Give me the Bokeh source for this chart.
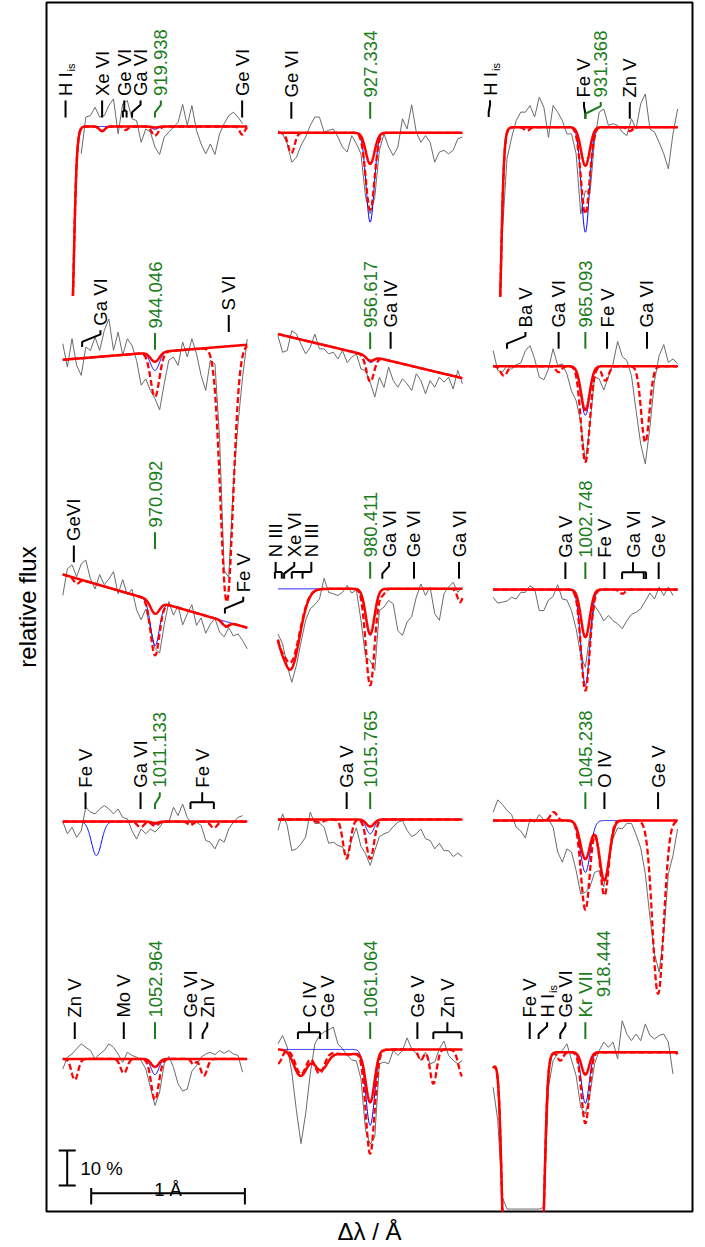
import numpy as np
from bokeh.plotting import figure
from bokeh.models import FixedTicker, ColumnDataSource
from bokeh.core.properties import value
from bokeh.embed import file_html
from bokeh.resources import INLINE

nan = float("nan")

# ---------------------------------------------------------------- data
PANELS = ["919.938", "944.046", "970.092", "1011.133", "1052.964",
          "927.334", "956.617", "980.411", "1015.765", "1061.064",
          "931.368", "965.093", "1002.748", "1045.238", "918.444"]
COLUMN = [0, 0, 0, 0, 0, 1, 1, 1, 1, 1, 2, 2, 2, 2, 2]
CONT_SLOPE = [0, 3.58, -12.7, 0, 0, 0, -10.5, 0, 0, 0, 0, 0, 0, 0, 0]  # % per Angstrom
DL_OBS = np.arange(-20, 21) * 0.03  # Angstrom

# observed flux, % relative to continuum
obs_919_938 = [nan, nan, nan, nan, -7.8, 2.7, 3.1, 5.5, 2.7, 3.1, 6.0, 7.9, -2.1, 6.5, 7.4, 2.2, 1.7, -4.5, -0.7, -1.6, -5.9, -8.0, -3.0, -1.6, -0.2, 1.2, 6.3, 0.3, 6.0, -1.1, -5.0, -7.8, -5.0, -8.0, -2.1, 0.8, 3.1, 4.1, 2.7, 0.8, nan]
obs_944_046 = [4.6, -2.2, 5.8, -1.9, -4.9, 3.1, 2.0, 5.7, 1.8, 7.4, 10.6, 1.5, 6.6, -0.1, 4.5, 2.5, -1.9, -9.1, -7.4, -10.8, -13.3, -16.6, -9.2, -2.6, -1.8, -4.3, 2.3, -2.1, 3.0, -1.4, -7.7, -12.1, -3.6, -4.7, -25.8, -64.0, -66.0, -39.4, -22.4, -9.1, 1.6]
obs_970_092 = [-6.0, 2.0, 3.5, 0.5, 4.5, 6.0, 1.0, -1.5, 3.0, 0.5, 2.5, 5.0, -1.0, 3.5, -0.5, 1.5, -4.0, -6.5, -3.0, -8.0, -13.5, -14.5, -6.0, 1.0, -2.5, 0.5, -4.5, -1.0, 2.0, -3.5, -1.0, -5.0, -2.0, 0.0, -3.5, -4.5, -1.5, -3.5, -2.5, -4.0, -6.0]
obs_1011_133 = [0.0, -3.5, -1.6, -4.5, -2.6, 4.1, 2.7, 2.2, 3.6, 4.6, 3.6, 2.2, 3.6, 1.2, 0.8, -2.6, -5.0, -2.1, -3.5, -2.1, -3.0, -1.6, 0.3, -0.2, 4.1, 1.7, 5.0, 1.2, -0.7, -0.2, -1.1, -5.4, -5.9, -7.8, -5.0, -5.9, -2.1, -0.2, 1.2, 1.7, nan]
obs_1052_964 = [-2.9, 0.5, 1.4, 2.9, 4.3, 3.3, 2.4, 0.0, 1.4, 2.4, 4.3, 3.3, 1.4, -1.0, 1.9, 1.0, 0.5, -0.5, -2.9, -8.1, -13.3, -9.5, -1.4, 0.7, -2.4, -7.1, -9.2, -8.6, -3.5, -1.9, 0.5, 1.4, 1.9, 1.2, 2.4, 1.6, 2.4, 1.4, 1.0, -3.8, nan]
obs_927_334 = [0.7, -0.3, -3.1, -8.4, -7.0, -3.6, -1.2, 2.1, 4.5, 4.5, 0.2, 0.7, 1.1, -1.2, -4.1, -5.5, -0.8, -3.1, -6.0, -18.4, -23.1, -18.4, -5.0, -0.3, -4.1, -6.5, -4.1, 4.0, 1.1, 8.0, 0.2, -2.7, -0.8, -2.7, -8.4, -5.5, -5.0, -6.0, -5.0, -1.7, -1.2]
obs_956_617 = [-0.5, -4.9, -4.1, 1.9, 1.3, -1.3, -3.8, -1.6, 2.5, -1.4, -1.1, -2.2, -1.4, -3.0, -0.3, -3.4, -1.6, -0.3, -4.3, -4.5, -7.5, -11.4, -5.4, -8.0, -1.9, -5.4, -7.0, -4.3, -5.4, -7.0, -1.9, -3.5, -7.0, -2.9, -4.5, -1.3, -2.4, -0.7, -3.7, 1.9, -1.6]
obs_980_411 = [-12.9, -15.7, -21.9, -26.7, -21.9, -15.2, -9.0, -5.7, -4.5, -2.9, 3.0, -1.0, -1.4, -1.9, -1.0, 1.0, -1.2, -0.3, -9.0, -19.5, -20.5, -23.3, -6.2, -5.2, -3.3, -4.3, -11.9, -13.3, -9.5, -7.9, -2.4, 1.4, -1.9, 0.5, -7.1, -9.0, -1.4, 0.5, 1.9, -1.0, 0.5]
obs_1015_765 = [-3.1, 1.6, -1.7, -8.9, -8.4, -7.0, -5.0, 2.1, -1.2, -1.0, -2.2, -6.8, -6.5, -7.4, -7.9, -10.6, -5.8, -2.4, -7.7, -9.8, -13.1, -8.9, -4.9, -4.1, -3.6, -2.0, -0.8, -0.3, -3.1, -4.9, -4.1, -2.7, -5.5, -6.0, -8.4, -6.8, -8.9, -8.9, -10.6, -9.6, -10.6]
obs_1061_064 = [1.6, 4.0, 0.7, -6.5, -17.4, -26.9, -18.4, -7.0, 1.6, 4.0, 5.0, 5.6, 6.4, 1.6, 0.2, -1.7, -3.0, -3.3, -8.4, -23.1, -27.0, -25.0, -4.1, -3.6, -4.1, -0.3, -1.7, -0.3, 3.3, 0.2, -1.2, -3.1, -0.8, -4.1, -3.6, 0.2, 2.4, -1.7, -3.1, -4.1, -3.1]
obs_931_368 = [nan, nan, -30.0, -9.0, -3.0, 1.9, 4.3, 4.3, 6.2, 2.9, 8.6, 5.7, -2.9, 6.2, 4.3, 1.9, -1.9, -1.9, -7.6, -24.8, -18.1, -19.0, -3.8, 4.3, 5.2, 0.5, 1.0, 0.5, -1.4, -2.4, 2.4, -0.5, 6.7, 9.5, -0.5, -1.4, -4.3, -7.6, -11.9, -1.9, 5.2]
obs_965_093 = [4.5, -1.2, -1.7, 0.2, -0.8, 0.5, 0.9, 4.5, 5.9, 2.1, -3.1, -3.9, -0.8, 5.0, 0.2, 0.7, -2.2, -7.1, -9.8, -16.0, -27.4, -16.5, -3.1, -3.6, -6.8, -3.1, 0.7, 7.1, 2.8, 1.6, -2.7, -12.7, -22.2, -27.9, -17.4, -4.1, 3.0, 6.2, 1.1, 2.1, 0.7]
obs_1002_748 = [-2.2, -3.9, -3.6, -3.3, -2.2, -2.7, -0.8, -0.8, 1.1, 0.2, -6.0, -6.0, -3.0, -2.0, 1.4, -2.7, -3.0, -6.0, -11.2, -18.9, -22.2, -12.4, -4.6, -6.5, -8.9, -7.4, -8.9, -9.8, -11.2, -8.9, -7.1, -6.5, -5.5, -3.3, -1.0, -2.7, 0.7, -1.7, 0.7, -1.7, nan]
obs_1045_238 = [2.4, 5.9, 4.6, 2.9, 1.7, -1.9, -3.0, -5.0, 0.5, -0.5, 1.7, 0.2, 0.5, -1.9, -9.0, -11.9, -8.1, -9.0, -14.3, -21.0, -20.5, -19.0, -14.8, -14.3, -18.9, -11.4, -5.2, -2.1, -2.4, -0.8, -0.8, -4.0, -7.8, -15.2, -27.6, -38.1, -43.3, -32.4, -15.2, -10.0, -2.4]
obs_918_444 = [-10.0, -19.5, -41.4, -44.8, -44.8, -44.8, -44.8, -44.8, -44.8, -44.8, -44.8, -44.3, -10.0, -2.4, -0.5, 0.5, 2.4, -2.2, -6.7, -15.7, -17.6, -11.9, -3.3, 0.5, 2.9, 1.4, 2.9, -1.9, 9.0, 5.2, 3.3, 5.2, 3.3, 8.1, 4.8, 3.8, 4.8, 5.2, 2.9, -6.2, nan]

# model absorption lines: (delta lambda [A], depth [%], width [A])
solid_919_938 = [(-0.344, 1.3, 0.025), (0.0, 0.3, 0.03)]
dashed_919_938 = [(-0.344, 1.3, 0.025), (-0.19, 1.0, 0.02), (0.0, 2.6, 0.03), (0.567, 2.3, 0.022)]
blue_919_938 = [(0.0, 0.8, 0.03)]
solid_944_046 = [(0.0, 2.7, 0.04)]
dashed_944_046 = [(0.0, 12.7, 0.04), (0.467, 73.0, 0.058)]
blue_944_046 = [(0.0, 5.2, 0.04)]
solid_970_092 = [(0.0, 3.6, 0.04), (0.46, 1.3, 0.03)]
dashed_970_092 = [(-0.51, 1.5, 0.025), (0.0, 15.5, 0.04), (0.46, 1.5, 0.03)]
blue_970_092 = [(0.0, 12.7, 0.04)]
solid_1011_133 = [(0.0, 0.4, 0.03)]
dashed_1011_133 = [(-0.094, 1.6, 0.03), (0.0, 1.2, 0.03), (0.231, 1.0, 0.025), (0.383, 1.8, 0.03)]
blue_1011_133 = [(-0.381, 9.7, 0.046), (0.0, 0.8, 0.03)]
solid_1052_964 = [(0.0, 2.3, 0.035)]
dashed_1052_964 = [(-0.522, 6.0, 0.03), (-0.203, 4.1, 0.03), (0.0, 11.7, 0.035), (0.25, 1.5, 0.02), (0.318, 4.8, 0.03)]
blue_1052_964 = [(0.0, 4.5, 0.035)]
solid_927_334 = [(0.0, 8.9, 0.04)]
dashed_927_334 = [(-0.513, 5.8, 0.03), (0.0, 22.0, 0.04)]
blue_927_334 = [(0.0, 25.5, 0.037)]
solid_956_617 = [(0.0, 1.3, 0.035)]
dashed_956_617 = [(0.0, 7.3, 0.035)]
blue_956_617 = [(0.0, 1.8, 0.035)]
solid_980_411 = [(-0.6, 5.0, 0.04), (-0.52, 23.0, 0.085), (0.0, 12.9, 0.04)]
dashed_980_411 = [(-0.6, 6.0, 0.04), (-0.52, 21.0, 0.085), (0.0, 27.6, 0.04), (0.08, 1.5, 0.025), (0.585, 3.8, 0.025)]
blue_980_411 = [(0.0, 13.3, 0.04)]
solid_1015_765 = [(0.0, 2.0, 0.035)]
dashed_1015_765 = [(-0.33, 0.8, 0.04), (-0.153, 11.2, 0.033), (0.0, 11.2, 0.035)]
blue_1015_765 = [(0.0, 4.1, 0.035)]
solid_1061_064 = [(-0.453, 7.5, 0.06), (-0.322, 5.5, 0.06), (-0.15, 1.4, 0.15), (0.0, 14.6, 0.04)]
dashed_1061_064 = [(-0.6, 4.0, 0.035), (-0.45, 7.0, 0.05), (-0.33, 6.5, 0.045), (-0.15, 1.4, 0.15), (0.0, 29.3, 0.04), (0.33, 3.0, 0.025), (0.411, 9.8, 0.03), (0.6, 7.6, 0.035)]
blue_1061_064 = [(0.0, 21.7, 0.04)]
solid_931_368 = [(0.0, 11.0, 0.04)]
dashed_931_368 = [(-0.38, 1.0, 0.025), (0.0, 24.8, 0.04), (0.29, 1.1, 0.025)]
blue_931_368 = [(0.0, 30.0, 0.037)]
solid_965_093 = [(0.0, 12.5, 0.04)]
dashed_965_093 = [(-0.53, 2.7, 0.03), (-0.174, 1.7, 0.025), (0.0, 27.4, 0.04), (0.13, 4.1, 0.03), (0.39, 21.7, 0.038)]
blue_965_093 = [(0.0, 14.0, 0.04)]
solid_1002_748 = [(0.0, 13.6, 0.04)]
dashed_1002_748 = [(0.0, 28.9, 0.04), (0.24, 1.2, 0.025)]
blue_1002_748 = [(0.0, 27.4, 0.04)]
solid_1045_238 = [(0.0, 11.0, 0.045), (0.124, 17.1, 0.045)]
dashed_1045_238 = [(-0.206, -2.4, 0.03), (0.0, 25.5, 0.04), (0.124, 21.4, 0.04), (0.473, 49.5, 0.052)]
blue_1045_238 = [(0.0, 14.8, 0.045)]
solid_918_444 = [(-0.63, 6.0, 0.05), (0.0, 6.4, 0.035), (0.62, 1.5, 0.02)]
dashed_918_444 = [(-0.63, 6.0, 0.05), (-0.163, 2.4, 0.025), (0.0, 20.3, 0.035)]
blue_918_444 = [(-0.63, 6.0, 0.05), (0.0, 14.6, 0.035)]

# saturated interstellar H I: (delta lambda, depth %, width, central optical depth)
hi_919_938 = [(-0.68, 60.0, 0.06, 614.0)]
hi_931_368 = [(-0.70, 60.0, 0.06, 614.0)]
hi_918_444 = [(-0.405, 60.0, 0.06, 219.0)]

# line identifications: (text, line positions, label position, colour, tick base %)
labels_919_938 = [("H I_is", [-0.582], -0.582, "k", 2.6), ("Xe VI", [-0.344], -0.344, "k", 2.6),
                  ("Ge VI", [-0.209, -0.185], -0.2, "k", 2.6), ("Ga VI", [-0.149], -0.094, "k", 2.6),
                  ("919.938", [0.0], 0.038, "g", 2.6), ("Ge VI", [0.567], 0.567, "k", 2.6)]
labels_944_046 = [("Ga VI", [-0.474], -0.355, "k", 3.2), ("944.046", [0.0], 0.0, "g", 0.7),
                  ("S VI", [0.48], 0.48, "k", 4.1)]
labels_970_092 = [("GeVI", [-0.528], -0.528, "k", 4.4), ("970.092", [0.0], 0.0, "g", 14.9),
                  ("Fe V", [0.455], 0.574, "k", 2.2)]
labels_1011_133 = [("Fe V", [-0.452], -0.452, "k", 3.6), ("Ga VI", [-0.094], -0.094, "k", 3.6),
                   ("1011.133", [0.0], 0.031, "g", 3.6), ("Fe V", [0.231, 0.383], 0.307, "k", 3.6)]
labels_1052_964 = [("Zn V", [-0.522], -0.522, "k", 5.7), ("Mo V", [-0.203], -0.203, "k", 5.7),
                   ("1052.964", [0.0], 0.0, "g", 5.7), ("Ge VI", [0.231], 0.231, "k", 5.7),
                   ("Zn V", [0.31], 0.34, "k", 5.7)]
labels_927_334 = [("Ge VI", [-0.513], -0.513, "k", 4.0), ("927.334", [0.0], 0.0, "g", 4.0)]
labels_956_617 = [("956.617", [0.0], 0.0, "g", 2.0), ("Ga IV", [0.133], 0.133, "k", 3.5)]
labels_980_411 = [("N III", [-0.62, -0.575], -0.615, "k", 2.9), ("Xe VI", [-0.56], -0.494, "k", 2.9),
                  ("N III", [-0.51, -0.44], -0.383, "k", 2.9), ("980.411", [0.0], 0.0, "g", 2.9),
                  ("Ga VI", [0.079], 0.123, "k", 2.9), ("Ge VI", [0.285], 0.285, "k", 2.9),
                  ("Ga VI", [0.578], 0.578, "k", 2.9)]
labels_1015_765 = [("Ga V", [-0.153], -0.153, "k", 3.0), ("1015.765", [0.0], 0.0, "g", 3.0)]
labels_1061_064 = [("C IV", [-0.47, -0.326], -0.398, "k", 3.0), ("Ge V", [-0.279], -0.279, "k", 3.0),
                   ("1061.064", [0.0], 0.0, "g", 3.0), ("Ge V", [0.307], 0.307, "k", 3.0),
                   ("Zn V", [0.411, 0.595], 0.502, "k", 3.0)]
labels_931_368 = [("H I_is", [-0.629], -0.62, "k", 2.9), ("Fe V", [0.0], -0.009, "k", 2.4),
                  ("931.368", [0.0], 0.1, "g", 2.4), ("Zn V", [0.289], 0.289, "k", 2.4)]
labels_965_093 = [("Ba V", [-0.51], -0.39, "k", 5.0), ("Ga VI", [-0.174], -0.174, "k", 5.0),
                  ("965.093", [0.0], 0.0, "g", 5.0), ("Fe V", [0.141], 0.141, "k", 5.0),
                  ("Ga VI", [0.401], 0.401, "k", 5.0)]
labels_1002_748 = [("Ga V", [-0.13], -0.13, "k", 3.0), ("1002.748", [0.0], 0.0, "g", 3.0),
                   ("Fe V", [0.124], 0.124, "k", 3.0), ("Ga VI", [0.239, 0.38, 0.395], 0.31, "k", 3.0),
                   ("Ge V", [0.477], 0.477, "k", 3.0)]
labels_1045_238 = [("1045.238", [0.0], 0.0, "g", 3.3), ("O IV", [0.124], 0.124, "k", 3.3),
                   ("Ge V", [0.473], 0.473, "k", 3.3)]
labels_918_444 = [("Fe V", [-0.362], -0.362, "k", 3.8), ("H I_is", [-0.304], -0.249, "k", 3.8),
                  ("Ge VI", [-0.163], -0.13, "k", 3.8), ("Kr VII", [0.0], 0.0, "g", 3.8),
                  ("918.444", None, 0.115, "g", 15.7)]

SCALE_FLUX = 10.0   # % (scale bar)
SCALE_WAVE = 1.0    # Angstrom (scale bar)

OBS = [obs_919_938, obs_944_046, obs_970_092, obs_1011_133, obs_1052_964,
       obs_927_334, obs_956_617, obs_980_411, obs_1015_765, obs_1061_064,
       obs_931_368, obs_965_093, obs_1002_748, obs_1045_238, obs_918_444]
SOLID = [solid_919_938, solid_944_046, solid_970_092, solid_1011_133, solid_1052_964,
         solid_927_334, solid_956_617, solid_980_411, solid_1015_765, solid_1061_064,
         solid_931_368, solid_965_093, solid_1002_748, solid_1045_238, solid_918_444]
DASHED = [dashed_919_938, dashed_944_046, dashed_970_092, dashed_1011_133, dashed_1052_964,
          dashed_927_334, dashed_956_617, dashed_980_411, dashed_1015_765, dashed_1061_064,
          dashed_931_368, dashed_965_093, dashed_1002_748, dashed_1045_238, dashed_918_444]
BLUE = [blue_919_938, blue_944_046, blue_970_092, blue_1011_133, blue_1052_964,
        blue_927_334, blue_956_617, blue_980_411, blue_1015_765, blue_1061_064,
        blue_931_368, blue_965_093, blue_1002_748, blue_1045_238, blue_918_444]
HI = [hi_919_938, [], [], [], [], [], [], [], [], [], hi_931_368, [], [], [], hi_918_444]
LABELS = [labels_919_938, labels_944_046, labels_970_092, labels_1011_133, labels_1052_964,
          labels_927_334, labels_956_617, labels_980_411, labels_1015_765, labels_1061_064,
          labels_931_368, labels_965_093, labels_1002_748, labels_1045_238, labels_918_444]

# ---------------------------------------------------------------- layout
PX_PER_A = 153.7
PX_PER_PCT = 3.5
FRAME_L, FRAME_R, FRAME_T, FRAME_B = 46, 692, 2, 1211
COL_STEP = 1.4
X0 = -(154.5 - FRAME_L) / PX_PER_A
X1 = X0 + (FRAME_R - FRAME_L) / PX_PER_A
Y1 = (FRAME_B - FRAME_T) / PX_PER_PCT
OFFSET = [310.0, 245.5, 174.4, 111.4, 43.6, 308.2, 244.4, 177.9, 112.0, 46.3,
          309.8, 241.5, 177.7, 111.7, 45.5]
FLOOR = [-50.6, None, None, None, None, None, None, None, None, None,
         -49.4, None, None, None, None]
TL = 4.8
GAP = 1.3
GREEN = "#1b7d1b"
FONT = "Liberation Sans"
W_HI = 6.75
SUB_DX = 5.5 / PX_PER_A

DL_MOD = np.linspace(-0.6, 0.6, 601)


def profile(dl, slope, lines, sat):
    f = slope * dl
    for c, d, w in lines:
        f = f - d * np.exp(-((dl - c) / w) ** 2)
    for c, d, w, t0 in sat:
        f = f - d * (1.0 - np.exp(-t0 * np.exp(-((dl - c) / w) ** 2)))
    return f


p = figure(width=705, height=1247, x_range=(X0, X1), y_range=(0, Y1),
           output_backend="svg", toolbar_location=None,
           min_border_left=FRAME_L, min_border_right=705 - FRAME_R,
           min_border_top=FRAME_T, min_border_bottom=1247 - FRAME_B)
p.xgrid.visible = False
p.ygrid.visible = False
p.outline_line_color = "black"
p.outline_line_width = 2
p.background_fill_color = "white"
p.border_fill_color = "white"

for ax in (p.xaxis[0], p.yaxis[0]):
    ax.ticker = FixedTicker(ticks=[])
    ax.major_tick_line_color = None
    ax.minor_tick_line_color = None
    ax.axis_line_color = None
    ax.major_tick_out = 0
    ax.major_tick_in = 0
    ax.major_label_standoff = 0
    ax.axis_label_text_font = FONT
    ax.axis_label_text_font_style = "normal"
    ax.axis_label_text_font_size = "24px"
    ax.axis_label_text_color = "black"
    ax.axis_label_standoff = 6
p.xaxis[0].axis_label = "Δλ / Å"
p.yaxis[0].axis_label = "relative flux"

obs_xs, obs_ys = [], []
sol_xs, sol_ys, das_xs, das_ys, blu_xs, blu_ys = [], [], [], [], [], []
for i in range(len(PANELS)):
    xo = COLUMN[i] * COL_STEP
    s = CONT_SLOPE[i]
    obs_xs.append(xo + DL_OBS)
    obs_ys.append(OFFSET[i] + s * DL_OBS + np.array(OBS[i], dtype=float))
    for lines, xs, ys in ((SOLID[i], sol_xs, sol_ys), (DASHED[i], das_xs, das_ys), (BLUE[i], blu_xs, blu_ys)):
        f = profile(DL_MOD, s, lines, HI[i])
        if FLOOR[i] is not None:
            f = np.where(f < FLOOR[i], np.nan, f)
        xs.append(xo + DL_MOD)
        ys.append(OFFSET[i] + f)

p.multi_line(obs_xs, obs_ys, line_color="#6b6b6b", line_width=1)
p.multi_line(blu_xs, blu_ys, line_color="#0000ff", line_width=1)
p.multi_line(das_xs, das_ys, line_color="#ff0000", line_width=2.3, line_dash="6 3")
p.multi_line(sol_xs, sol_ys, line_color="#ff0000", line_width=2.5)

# line identification marks
tk_xs = {"k": [], "g": []}
tk_ys = {"k": [], "g": []}
txt = dict(x=[], y=[], text=[], color=[])
sub = dict(x=[], y=[], text=[], color=[])
for i in range(len(PANELS)):
    xo = COLUMN[i] * COL_STEP
    s = CONT_SLOPE[i]
    off = OFFSET[i]
    for text, lines, at, col, lev in LABELS[i]:
        color = GREEN if col == "g" else "black"
        if lines is None:
            ty = off + s * at + lev
        else:
            xm = sum(lines) / len(lines)
            y0 = off + s * xm + lev
            if len(lines) > 1:
                yb = y0 + 0.4 * TL
                for xl in lines:
                    tk_xs[col].append([xo + xl, xo + xl])
                    tk_ys[col].append([y0, yb])
                lo = min(lines + [at])
                hi = max(lines + [at])
                tk_xs[col].append([xo + lo, xo + hi])
                tk_ys[col].append([yb, yb])
                tk_xs[col].append([xo + at, xo + at])
                tk_ys[col].append([yb, y0 + TL])
            elif abs(at - lines[0]) < 1e-9:
                tk_xs[col].append([xo + at, xo + at])
                tk_ys[col].append([y0, y0 + TL])
            else:
                xl = lines[0]
                tk_xs[col].append([xo + xl, xo + xl, xo + at, xo + at])
                tk_ys[col].append([y0, y0 + 0.3 * TL, y0 + 0.75 * TL, y0 + TL])
            ty = y0 + TL + GAP
        if "_" in text:
            main, sb = text.split("_")
            txt["x"].append(xo + at); txt["y"].append(ty); txt["text"].append(main); txt["color"].append(color)
            sub["x"].append(xo + at + SUB_DX); sub["y"].append(ty + W_HI + 0.3); sub["text"].append(sb); sub["color"].append(color)
        else:
            txt["x"].append(xo + at); txt["y"].append(ty); txt["text"].append(text); txt["color"].append(color)

p.multi_line(tk_xs["k"], tk_ys["k"], line_color="black", line_width=2)
p.multi_line(tk_xs["g"], tk_ys["g"], line_color=GREEN, line_width=2)
p.text(x="x", y="y", text="text", text_color="color", source=ColumnDataSource(txt),
       angle=np.pi / 2, text_align="left", text_baseline="middle",
       text_font=value(FONT), text_font_size=value("18.5px"))
p.text(x="x", y="y", text="text", text_color="color", source=ColumnDataSource(sub),
       angle=np.pi / 2, text_align="left", text_baseline="middle",
       text_font=value(FONT), text_font_size=value("11px"))

# scale bars
sbx = X0 + (66.7 - FRAME_L) / PX_PER_A
sby0 = (FRAME_B - 1185) / PX_PER_PCT
cap = 8.5 / PX_PER_A
wx0 = X0 + (90.7 - FRAME_L) / PX_PER_A
wy = (FRAME_B - 1192.7) / PX_PER_PCT
p.multi_line([[sbx, sbx], [sbx - cap, sbx + cap], [sbx - cap, sbx + cap],
              [wx0, wx0 + SCALE_WAVE], [wx0, wx0], [wx0 + SCALE_WAVE, wx0 + SCALE_WAVE]],
             [[sby0, sby0 + SCALE_FLUX], [sby0, sby0], [sby0 + SCALE_FLUX, sby0 + SCALE_FLUX],
              [wy, wy], [wy - 3.24, wy + 1.52], [wy - 3.24, wy + 1.52]],
             line_color="black", line_width=2)
p.text(x=[sbx + 13.3 / PX_PER_A], y=[sby0 + SCALE_FLUX / 2], text=["10 %"],
       text_align="left", text_baseline="middle", text_font=value(FONT),
       text_font_size=value("18.5px"), text_color="black")
p.text(x=[wx0 + SCALE_WAVE / 2], y=[wy + 1.1], text=["1 Å"],
       text_align="center", text_baseline="alphabetic", text_font=value(FONT),
       text_font_size=value("18.5px"), text_color="black")

open("out.html", "w").write(file_html(p, INLINE))
